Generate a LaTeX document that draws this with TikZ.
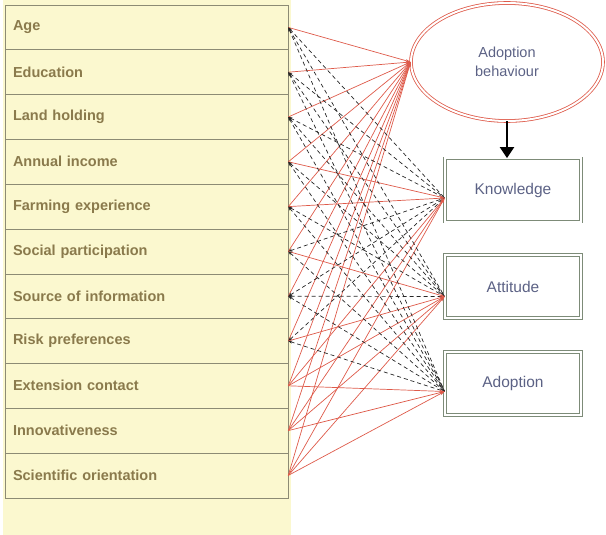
\documentclass[tikz,border=0pt]{standalone}
\usepackage{fontspec}
\setmainfont{Liberation Sans}
\usetikzlibrary{arrows.meta,shapes.geometric}
\definecolor{panelyellow}{HTML}{FBF8CF}
\definecolor{varcolor}{HTML}{8A7A4C}
\definecolor{rowline}{HTML}{8C8B74}
\definecolor{pathred}{HTML}{DE5A4A}
\definecolor{boxline}{HTML}{7D8B78}
\definecolor{outtext}{HTML}{5C6285}
\begin{document}
\begin{tikzpicture}[x=1pt,y=-1pt]

    \tikzset{
      var/.style={
        draw=rowline,
        line width=0.6pt,
        rectangle,
        minimum width=283pt,
        minimum height=44.8pt,
        text width=267pt,
        inner xsep=8pt,
        align=left,
        text=varcolor,
        font=\fontsize{14.5}{16}\selectfont\bfseries,
      },
      outcome/.style={
        draw=boxline,
        double=white,
        double distance=2pt,
        line width=0.8pt,
        minimum width=136pt,
        minimum height=63pt,
        text=outtext,
        font=\fontsize{15.5}{17}\selectfont,
      },
      redpath/.style={
        pathred,
        line width=0.7pt,
        -{Stealth[length=5pt,width=3pt]},
      },
      dashpath/.style={
        black!85,
        line width=0.7pt,
        dash pattern=on 4pt off 3pt,
        {Stealth[length=4pt,width=3pt]}-,
      },
    }
    \useasboundingbox (0,0) rectangle (606,535);
    \fill[panelyellow] (3,0) rectangle (291,535);

	\node[var] (age) at (146.5,27.4) {Age};
	\node[var] (edu) at (146.5,72.2) {Education};
	\node[var] (land) at (146.5,117) {Land holding};
	\node[var] (income) at (146.5,161.8) {Annual income};
	\node[var] (farm) at (146.5,206.6) {Farming experience};
	\node[var] (social) at (146.5,251.4) {Social participation};
	\node[var] (source) at (146.5,296.2) {Source of information};
	\node[var] (risk) at (146.5,341) {Risk preferences};
	\node[var] (ext) at (146.5,385.8) {Extension contact};
	\node[var] (innov) at (146.5,430.6) {Innovativeness};
	\node[var] (sci) at (146.5,475.4) {Scientific orientation};

	\node[ellipse,draw=pathred,double=white,double distance=2pt,line width=0.8pt,minimum width=192pt,minimum height=118pt,align=center,text=outtext,font=\fontsize{14.5}{19}\selectfont] (beh) at (507,62) {Adoption\\behaviour};
	\node[outcome] (know) at (513,190) {Knowledge};
	\node[outcome] (att) at (513,286.5) {Attitude};
	\node[outcome] (adopt) at (513,383.5) {Adoption};

	\coordinate (kin) at ([yshift=-8pt]know.west);
	\coordinate (ain) at ([yshift=-10pt]att.west);
	\coordinate (din) at ([yshift=-8pt]adopt.west);

	% adoption behaviour
	\draw[redpath] (age.east)--(beh.west); \draw[redpath] (edu.east)--(beh.west); \draw[redpath] (land.east)--(beh.west);
	\draw[redpath] (income.east)--(beh.west); \draw[redpath] (farm.east)--(beh.west); \draw[redpath] (social.east)--(beh.west);
	\draw[redpath] (source.east)--(beh.west); \draw[redpath] (risk.east)--(beh.west); \draw[redpath] (ext.east)--(beh.west);
	\draw[redpath] (innov.east)--(beh.west); \draw[redpath] (sci.east)--(beh.west);

	% knowledge
	\draw[dashpath] (age.east)--(kin); \draw[dashpath] (edu.east)--(kin); \draw[dashpath] (land.east)--(kin);
	\draw[redpath] (income.east)--(kin); \draw[redpath] (farm.east)--(kin); \draw[dashpath] (social.east)--(kin);
	\draw[dashpath] (source.east)--(kin); \draw[dashpath] (risk.east)--(kin); \draw[redpath] (ext.east)--(kin);
	\draw[redpath] (innov.east)--(kin); \draw[redpath] (sci.east)--(kin);

	% attitude
	\draw[dashpath] (age.east)--(ain); \draw[dashpath] (edu.east)--(ain); \draw[dashpath] (land.east)--(ain);
	\draw[dashpath] (income.east)--(ain); \draw[dashpath] (farm.east)--(ain); \draw[redpath] (social.east)--(ain);
	\draw[dashpath] (source.east)--(ain); \draw[redpath] (risk.east)--(ain); \draw[redpath] (ext.east)--(ain);
	\draw[redpath] (innov.east)--(ain); \draw[redpath] (sci.east)--(ain);

	% adoption
	\draw[dashpath] (age.east)--(din); \draw[dashpath] (edu.east)--(din); \draw[dashpath] (land.east)--(din);
	\draw[dashpath] (income.east)--(din); \draw[dashpath] (farm.east)--(din); \draw[dashpath] (social.east)--(din);
	\draw[dashpath] (source.east)--(din); \draw[dashpath] (risk.east)--(din); \draw[redpath] (ext.east)--(din);
	\draw[redpath] (innov.east)--(din); \draw[redpath] (sci.east)--(din);

	\draw[line width=2.4pt,-{Triangle[length=11pt,width=14pt]}] (beh.south)--(beh.south |- know.north);

\end{tikzpicture}
\end{document}
